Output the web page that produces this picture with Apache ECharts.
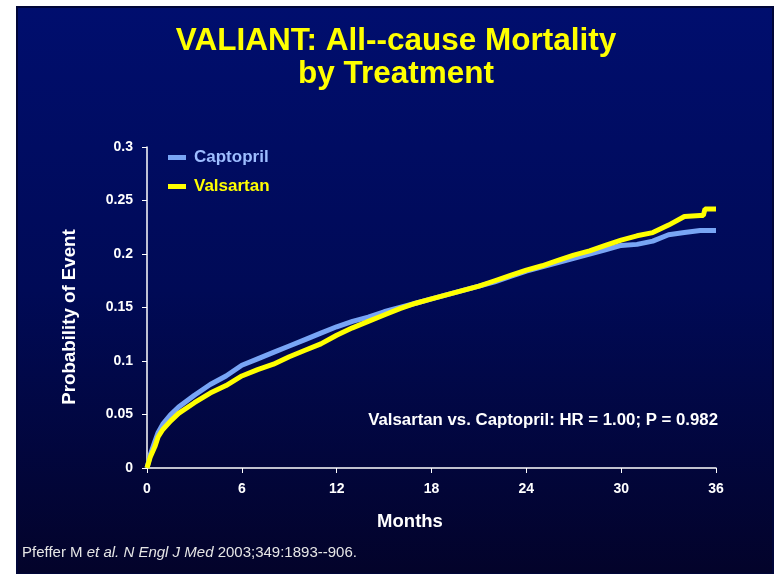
<!DOCTYPE html>
<html>
<head>
<meta charset="utf-8">
<script src="https://cdn.jsdelivr.net/npm/echarts@6/dist/echarts.min.js"></script>
<style>
  html, body { margin: 0; padding: 0; background: #ffffff; }
  #chart { width: 774px; height: 574px; }
</style>
</head>
<body>
<div id="chart"></div>
<script>
// 数据
const months = [0, 0.2, 0.5, 0.7, 1, 1.5, 2, 3, 4, 5, 6, 7, 8, 9, 10, 11, 12, 13, 14, 15, 16, 17, 18,
  19, 20, 21, 22, 23, 24, 25, 26, 27, 28, 29, 30, 31, 32, 33, 34, 35, 35.2, 35.3, 36]
const captopril = [0, 0.012, 0.025, 0.033, 0.041, 0.050, 0.057, 0.068, 0.078, 0.086, 0.096, 0.102, 0.108,
  0.114, 0.120, 0.126, 0.132, 0.137, 0.141, 0.146, 0.150, 0.154, 0.158, 0.162, 0.166, 0.170, 0.174,
  0.179, 0.184, 0.188, 0.192, 0.196, 0.200, 0.204, 0.208, 0.209, 0.212, 0.218, 0.220, 0.222, 0.222, 0.222, 0.222]
const valsartan = [0, 0.010, 0.020, 0.029, 0.036, 0.044, 0.051, 0.061, 0.070, 0.077, 0.086, 0.092, 0.097,
  0.104, 0.110, 0.116, 0.124, 0.131, 0.137, 0.143, 0.149, 0.154, 0.158, 0.162, 0.166, 0.170, 0.175,
  0.180, 0.185, 0.189, 0.194, 0.199, 0.203, 0.208, 0.213, 0.217, 0.220, 0.227, 0.235, 0.236, 0.236, 0.242, 0.242]
const seriesNames = ['Captopril', 'Valsartan']
const xTicks = [0, 36, 6]      // min, max, interval
const yTicks = [0, 0.3, 0.05]

const font = 'Liberation Sans, Arial, sans-serif'
const blue = '#78a5f5'
const yellow = '#ffff00'

const chart = echarts.init(document.getElementById('chart'))

chart.setOption({
  animation: false,
  textStyle: { fontFamily: font },
  graphic: [
    {
      type: 'rect',
      z: -10,
      shape: { x: 17, y: 7, width: 756, height: 567 },
      style: {
        fill: new echarts.graphic.LinearGradient(0, 0, 0, 1, [
          { offset: 0, color: '#000e6e' },
          { offset: 0.5, color: '#000a56' },
          { offset: 1, color: '#03032a' }
        ]),
        stroke: '#000538',
        lineWidth: 2
      }
    },
    {
      type: 'text', x: 396, y: 25,
      style: {
        text: 'VALIANT: All--cause Mortality\nby Treatment',
        fill: yellow, font: 'bold 31.5px ' + font, align: 'center', lineHeight: 33
      }
    },
    {
      type: 'text', x: 718, y: 420,
      style: {
        text: 'Valsartan vs. Captopril: HR = 1.00; P = 0.982',
        fill: '#ffffff', font: 'bold 16.8px ' + font, align: 'right', verticalAlign: 'middle'
      }
    },
    {
      // x 轴名称
      type: 'text', x: 410, y: 522,
      style: {
        text: 'Months',
        fill: '#ffffff', font: 'bold 18.5px ' + font, align: 'center', verticalAlign: 'middle'
      }
    },
    {
      // y 轴名称
      type: 'text', x: 70, y: 317, rotation: Math.PI / 2,
      style: {
        text: 'Probability of Event',
        fill: '#ffffff', font: 'bold 18.7px ' + font, align: 'center', verticalAlign: 'middle'
      }
    },
    {
      type: 'text', x: 22, y: 553,
      style: {
        text: '{n|Pfeffer M }{i|et al. N Engl J Med}{n| 2003;349:1893--906.}',
        verticalAlign: 'middle',
        rich: {
          n: { fill: '#e6e6e6', font: '15px ' + font },
          i: { fill: '#e6e6e6', font: 'italic 15px ' + font }
        }
      }
    }
  ],
  legend: {
    left: 168, top: 149,
    padding: 0,
    orient: 'vertical',
    itemGap: 12,
    itemWidth: 18, itemHeight: 5,
    icon: 'rect',
    textStyle: { fontWeight: 'bold', fontSize: 17, fontFamily: font, padding: [0, 0, 0, 3] },
    data: [
      { name: seriesNames[0], textStyle: { color: '#9dbdff' } },
      { name: seriesNames[1], textStyle: { color: yellow } }
    ]
  },
  grid: { left: 147, right: 58, top: 147, bottom: 106 },
  xAxis: {
    type: 'value',
    min: xTicks[0], max: xTicks[1], interval: xTicks[2],
    axisLine: { lineStyle: { color: '#ffffff', width: 1.5 } },
    axisTick: { length: 5, lineStyle: { color: '#ffffff' } },
    axisLabel: { color: '#ffffff', fontWeight: 'bold', fontSize: 14, margin: 14 },
    splitLine: { show: false }
  },
  yAxis: {
    type: 'value',
    min: yTicks[0], max: yTicks[1], interval: yTicks[2],
    axisLine: { show: true, lineStyle: { color: '#ffffff', width: 1.5 } },
    axisTick: { show: true, length: 5, lineStyle: { color: '#ffffff' } },
    axisLabel: { color: '#ffffff', fontWeight: 'bold', fontSize: 14, margin: 14 },
    splitLine: { show: false }
  },
  series: [
    {
      name: seriesNames[0],
      type: 'line',
      showSymbol: false,
      color: blue,
      lineStyle: { width: 5, color: blue },
      data: months.map((m, i) => [m, captopril[i]])
    },
    {
      name: seriesNames[1],
      type: 'line',
      showSymbol: false,
      color: yellow,
      lineStyle: { width: 5, color: yellow },
      data: months.map((m, i) => [m, valsartan[i]])
    }
  ]
})
</script>
</body>
</html>
